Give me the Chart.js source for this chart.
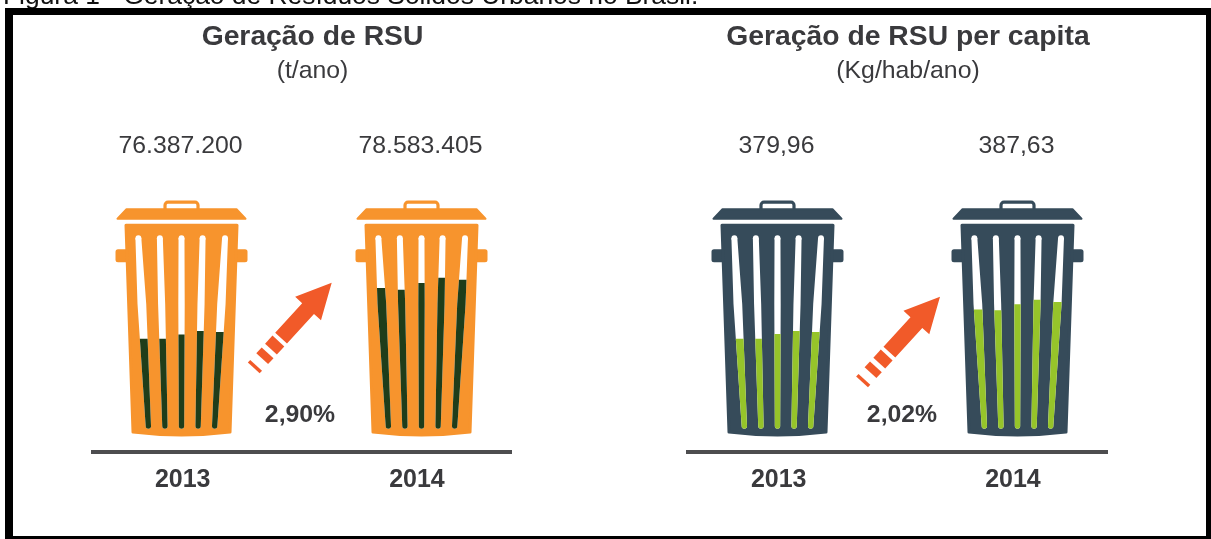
<!DOCTYPE html>
<html>
<head>
<meta charset="utf-8">
<script src="https://cdn.jsdelivr.net/npm/chart.js@4/dist/chart.umd.js"></script>
<style>
  html, body { margin: 0; width: 1211px; height: 539px; overflow: hidden; background: #fff; font-family: "Liberation Sans", sans-serif; }
  #caption { position: absolute; left: 3px; top: -20px; font-size: 26.4px; line-height: 30px; color: #111; white-space: nowrap; filter: blur(0.5px); }
  #frame { position: absolute; left: 5px; top: 8px; width: 1193px; height: 521px; border-style: solid; border-color: #000; border-width: 7px 5px 3px 8px; filter: blur(0.4px); }
  .panel { position: absolute; top: 0; width: 580px; height: 539px; filter: blur(0.6px); }
</style>
</head>
<body>
<div id="caption">Figura 1 - Geração de Resíduos Sólidos Urbanos no Brasil.</div>
<div id="frame"></div>
<div class="panel" style="left:23px"><canvas id="panelRsu" width="580" height="539"></canvas></div>
<div class="panel" style="left:618px"><canvas id="panelCapita" width="580" height="539"></canvas></div>
<script>
// values
const years = [2013, 2014];
const rsuTitle = "Geração de RSU";
const rsuUnit = "(t/ano)";
const rsuValues = ["76.387.200", "78.583.405"];
const rsuGrowth = "2,90%";
const capitaTitle = "Geração de RSU per capita";
const capitaUnit = "(Kg/hab/ano)";
const capitaValues = ["379,96", "387,63"];
const capitaGrowth = "2,02%";
// how full each of the five slats of a bin is, % of the slat height
const rsuFill2013 = [46.5, 46.5, 48.8, 50.6, 50.1];
const rsuFill2014 = [73.5, 72.6, 76.1, 78.9, 77.9];
const capitaFill2013 = [46.5, 46.5, 49, 50.6, 50.1];
const capitaFill2014 = [62.1, 61.6, 64.8, 67.3, 66];

const slatLean = [-0.053, -0.027, 0, 0.024, 0.055];
const slatBulge = [1.25, 1.02, 0.92, 1.02, 1.2];
const textColor = "#3a3a3d";

function drawBin(ctx, cx, top, bottom, color) {
  // top is the slat top pixel, bottom the slat bottom pixel
  ctx.fillStyle = color;
  ctx.strokeStyle = color;
  ctx.lineJoin = "round";
  // handle
  ctx.lineWidth = 3.2;
  ctx.beginPath();
  ctx.roundRect(cx - 16.5, top - 36, 33, 10.5, 3);
  ctx.stroke();
  // lid
  ctx.lineWidth = 2;
  ctx.beginPath();
  ctx.moveTo(cx - 64, top - 19.5);
  ctx.lineTo(cx - 55, top - 29);
  ctx.lineTo(cx + 55, top - 29);
  ctx.lineTo(cx + 64, top - 19.5);
  ctx.closePath();
  ctx.fill();
  ctx.stroke();
  // side grips
  ctx.beginPath();
  ctx.roundRect(cx - 66, top + 11, 132, 13, 2.5);
  ctx.fill();
  // body
  ctx.lineWidth = 3;
  ctx.beginPath();
  ctx.moveTo(cx - 55.5, top - 13);
  ctx.lineTo(cx + 55.5, top - 13);
  ctx.lineTo(cx + 48.5, bottom + 6);
  ctx.quadraticCurveTo(cx, bottom + 12, cx - 48.5, bottom + 6);
  ctx.closePath();
  ctx.fill();
  ctx.stroke();
}

function drawArrow(ctx, tipX, tipY, color) {
  ctx.save();
  ctx.translate(tipX, tipY);
  ctx.rotate(Math.atan2(257, -235));
  ctx.fillStyle = color;
  ctx.beginPath();
  ctx.moveTo(0, 0);
  ctx.lineTo(35, -17.5);
  ctx.lineTo(35, -8);
  ctx.lineTo(75, -8);
  ctx.lineTo(75, 8);
  ctx.lineTo(35, 8);
  ctx.lineTo(35, 17.5);
  ctx.closePath();
  ctx.fill();
  ctx.fillRect(79, -8, 11, 16);
  ctx.fillRect(95, -8, 8, 16);
  ctx.fillRect(112, -8, 3.5, 16);
  ctx.restore();
}

// slats bulge a bit above the middle and lean outwards
function slatPath(ctx, x, i, base, span, upto, width) {
  const mid = slatBulge[i];
  const w = (f) => width * (f < 0.65 ? 0.77 + ((mid - 0.77) * f) / 0.65 : mid - ((mid - 0.85) * (f - 0.65)) / 0.35);
  const stops = upto > 0.65 ? [0, 0.65, upto] : [0, upto];
  const at = (f) => x + slatLean[i] * f * span;
  ctx.beginPath();
  ctx.arc(x, base, w(0) / 2, Math.PI, 0, true);
  stops.forEach((f) => ctx.lineTo(at(f) + w(f) / 2, base - f * span));
  stops.reverse().forEach((f) => ctx.lineTo(at(f) - w(f) / 2, base - f * span));
  ctx.closePath();
  ctx.fill();
  return w(upto);
}

// replaces the plain rectangle, position and height still come from the scales
function drawSlat(ctx) {
  const { x, y, base, width } = this.getProps(["x", "y", "base", "width"], true);
  ctx.save();
  ctx.fillStyle = this.options.backgroundColor;
  slatPath(ctx, x, this.$slat, base, base - this.$top, (base - y) / (base - this.$top), width);
  ctx.restore();
}

const binPlugin = {
  id: "bins",
  afterLayout(chart, args, opts) {
    // the headings are centred a bit right of the axis
    chart.boxes.forEach((box) => {
      if (box.position === "top") {
        box.left += opts.titleShift;
        box.right += opts.titleShift;
      }
    });
  },
  afterDatasetsUpdate(chart) {
    const top = chart.scales.y.getPixelForValue(100);
    chart.data.datasets.forEach((ds, i) => {
      chart.getDatasetMeta(i).data.forEach((el) => {
        el.$slat = i;
        el.$top = top;
        el.draw = drawSlat;
      });
    });
  },
  beforeDatasetsDraw(chart, args, opts) {
    const { ctx, scales } = chart;
    const top = scales.y.getPixelForValue(100);
    const bottom = scales.y.getPixelForValue(0);
    ctx.save();
    years.forEach((year, j) => {
      const cx = scales.x.getPixelForValue(year);
      drawBin(ctx, cx, top, bottom, opts.binColor);
      // the empty slot behind each slat
      chart.data.datasets.forEach((ds, i) => {
        const el = chart.getDatasetMeta(i).data[j];
        ctx.fillStyle = "#fff";
        const topW = slatPath(ctx, el.x, i, bottom, bottom - top, 1, el.width);
        ctx.beginPath();
        ctx.arc(el.x + slatLean[i] * (bottom - top), top, topW / 2, 0, Math.PI * 2);
        ctx.fill();
      });
      // amount above the bin
      ctx.fillStyle = textColor;
      ctx.font = "24.8px 'Liberation Sans'";
      ctx.textAlign = "center";
      ctx.textBaseline = "middle";
      ctx.fillText(opts.values[j], cx - 1, 146);
    });
    drawArrow(ctx, opts.arrowX, opts.arrowY, "#f15a29");
    ctx.fillStyle = textColor;
    ctx.font = "bold 24.8px 'Liberation Sans'";
    ctx.textAlign = "center";
    ctx.textBaseline = "middle";
    ctx.fillText(opts.growth, opts.growthX, 415);
    ctx.restore();
  },
};

function slatDatasets(fill2013, fill2014, color) {
  return slatLean.map((lean, i) => ({
    data: [
      { x: years[0], y: fill2013[i] },
      { x: years[1], y: fill2014[i] },
    ],
    backgroundColor: color,
    categoryPercentage: 0.354,
    barPercentage: 0.42,
  }));
}

function makePanel(id, title, unit, values, growth, fill2013, fill2014, binColor, slatColor, pos) {
  return new Chart(document.getElementById(id), {
    type: "bar",
    data: { datasets: slatDatasets(fill2013, fill2014, slatColor) },
    plugins: [binPlugin],
    options: {
      responsive: false,
      animation: false,
      events: [],
      layout: { padding: { left: 70, right: pos.padRight } },
      plugins: {
        legend: { display: false },
        tooltip: { enabled: false },
        title: {
          display: true,
          text: title,
          color: textColor,
          font: { size: 28.3, weight: "bold", family: "Liberation Sans" },
          padding: { top: 20, bottom: 0 },
        },
        subtitle: {
          display: true,
          text: unit,
          color: textColor,
          font: { size: 24.8, family: "Liberation Sans" },
          padding: { top: 2.7, bottom: 151.8 },
        },
        bins: {
          binColor, values, growth,
          arrowX: pos.arrowX, arrowY: pos.arrowY, growthX: pos.growthX,
          titleShift: 10.5,
        },
      },
      scales: {
        x: {
          type: "linear",
          offset: false,
          min: years[0] - pos.lead,
          max: years[1] + 0.3729,
          afterBuildTicks(axis) {
            // the year labels sit a little inside the bin centres
            axis.ticks = [{ value: years[0] + 0.005 }, { value: years[1] - 0.019 }];
          },
          afterFit(axis) {
            axis.height = 87;
          },
          grid: { display: true, drawOnChartArea: false, drawTicks: false },
          border: { display: true, width: 4, color: "#4d4d4f" },
          ticks: {
            padding: 13.5,
            color: textColor,
            font: { size: 25, weight: "bold", family: "Liberation Sans" },
            callback: (v) => String(Math.round(v)),
          },
        },
        y: { display: false, min: -13.8, max: 100 },
      },
    },
  });
}

makePanel("panelRsu", rsuTitle, rsuUnit, rsuValues, rsuGrowth, rsuFill2013, rsuFill2014,
  "#f7942d", "#1f3d1a", { padRight: 92, lead: 0.3688, arrowX: 331.7 - 23, arrowY: 282.7, growthX: 300 - 23 });
makePanel("panelCapita", capitaTitle, capitaUnit, capitaValues, capitaGrowth, capitaFill2013, capitaFill2014,
  "#364b5a", "#96c42a", { padRight: 91, lead: 0.3729, arrowX: 940 - 618, arrowY: 296.7, growthX: 902 - 618 });
</script>
</body>
</html>
